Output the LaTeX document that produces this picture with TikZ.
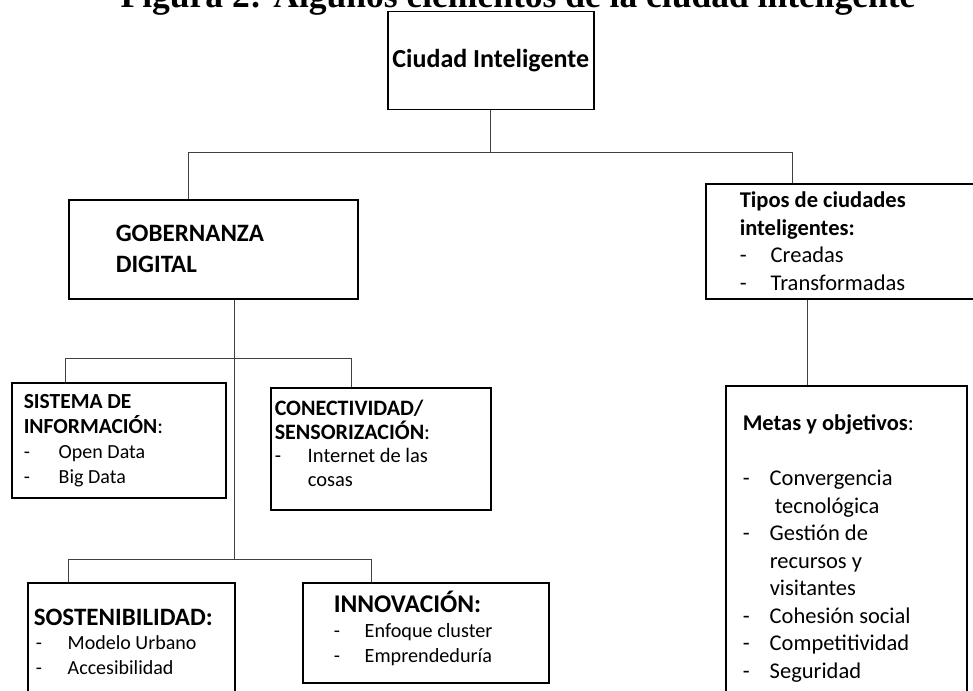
\documentclass[tikz,border=0pt]{standalone}
\usepackage{fontspec}
\setmainfont{Carlito}
\newfontfamily\titlefont{Liberation Serif}
\newcommand{\itm}[2][32pt]{\makebox[#1][l]{-}#2}

\begin{document}
\begin{tikzpicture}[x=1pt,y=-1pt,
    box/.style={draw,line width=1.5pt,anchor=north west,align=flush left,inner ysep=0pt},
    link/.style={line width=0.8pt,black!75}]
        \useasboundingbox (0,0) rectangle (973,690);
        \node[anchor=base,font=\titlefont\fontsize{35.5}{40}\selectfont\bfseries] (title) at (518,8)
            {Figura 2: Algunos elementos de la ciudad inteligente};

        \node[box,align=center,minimum width=206,minimum height=98,font=\fontsize{26}{31}\selectfont\bfseries] (ciudad) at (387,11)
            {Ciudad Inteligente};
        \node[box,minimum width=289,minimum height=99,inner xsep=47,text width=195,font=\fontsize{25}{31}\selectfont\bfseries] (gob) at (68,199)
            {GOBERNANZA\\DIGITAL};
        \node[box,minimum width=290,minimum height=115,inner xsep=34,text width=222,font=\fontsize{22.5}{27.7}\selectfont] (tipos) at (705,183)
            {\textbf{Tipos de ciudades}\\\textbf{inteligentes:}\\
             \itm[31pt]{Creadas}\\\itm[31pt]{Transformadas}};
        \node[box,minimum width=241,minimum height=326,inner xsep=17,text width=207,font=\fontsize{22.5}{27.5}\selectfont] (metas) at (725,385)
            {\textbf{Metas y objetivos}:\\[27.5pt]
             \itm[27pt]{Convergencia}\\\hspace*{32pt}tecnológica\\
             \itm[27pt]{Gestión de}\\\hspace*{27pt}recursos y\\\hspace*{27pt}visitantes\\
             \itm[27pt]{Cohesión social}\\\itm[27pt]{Competitividad}\\\itm[27pt]{Seguridad}};

        \node[box,minimum width=214,minimum height=115,inner xsep=12,text width=190,font=\fontsize{20}{25}\selectfont] (sis) at (11,382)
            {{\fontsize{21.5}{25}\selectfont\textbf{SISTEMA DE}\\\textbf{INFORMACIÓN}:}\\
             \itm[35pt]{Open Data}\\\itm[35pt]{Big Data}};
        \node[box,minimum width=220,minimum height=122,inner xsep=4,text width=212,font=\fontsize{20.5}{23.5}\selectfont] (con) at (270,387)
            {{\fontsize{22}{23.5}\selectfont\textbf{CONECTIVIDAD/}\\\textbf{SENSORIZACIÓN}:}\\
             \itm[33pt]{Internet de las}\\\hspace*{33pt}cosas\rule[-11pt]{0pt}{0pt}};
        \node[box,minimum width=207,minimum height=118,inner xsep=6,text width=195,font=\fontsize{20}{24.5}\selectfont] (sos) at (27,582)
            {{\fontsize{25}{24.5}\selectfont\textbf{SOSTENIBILIDAD:}}\\
             \hspace*{2pt}\itm[32pt]{Modelo Urbano}\\\hspace*{2pt}\itm[32pt]{Accesibilidad}};
        \node[box,minimum width=246,minimum height=100,inner xsep=31,text width=184,font=\fontsize{20.2}{25}\selectfont] (inn) at (302,582)
            {{\fontsize{25.5}{25}\selectfont\textbf{INNOVACIÓN:}}\\
             \itm[31pt]{Enfoque cluster}\\\itm[31pt]{Emprendeduría}\rule[-12pt]{0pt}{0pt}};

        \draw[link] (ciudad.south) -- ++(0,42) coordinate (top);
        \draw[link] ([xshift=-24.5pt]gob.north) |- (top) -| ([xshift=87pt]tipos.north west);
        \draw[link] ([xshift=102pt]tipos.south west) -- ([xshift=82pt]metas.north west);
        \draw[link] ([xshift=21.5pt]gob.south) -- ++(0,59) coordinate (mid) -- ++(0,201) coordinate (low);
        \draw[link] ([xshift=54pt]sis.north west) |- (mid) -| ([xshift=81pt]con.north west);
        \draw[link] ([xshift=41pt]sos.north west) |- (low) -| ([xshift=69pt]inn.north west);
    \end{tikzpicture}
\end{document}
